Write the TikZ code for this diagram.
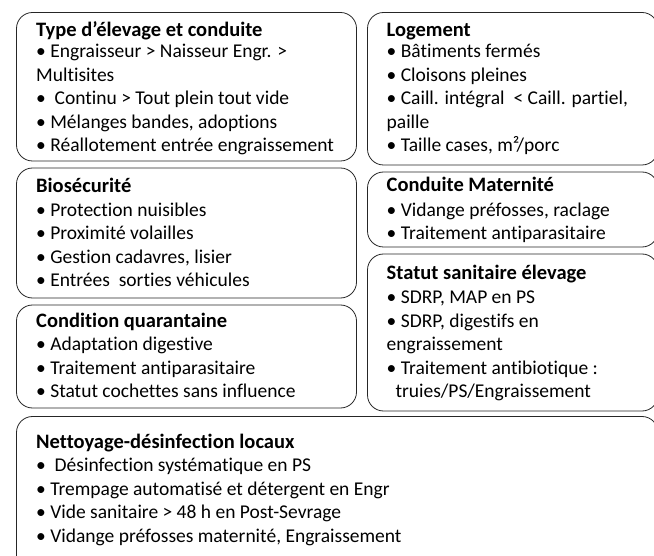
\documentclass[tikz,border=0pt]{standalone}
\usepackage{fontspec}
\setmainfont[Ligatures=CommonOff]{Carlito}
\usepackage{tikz}

\newcommand{\boxfont}{\fontsize{19.5}{23.5}\selectfont}
\newcommand{\headfont}{\fontsize{20.5}{23.5}\selectfont\bfseries}

\tikzset{
  box/.style={draw=black!85, line width=0.8pt, rounded corners=16pt},
  head/.style={font=\headfont, anchor=base west, inner sep=0pt},
  item/.style={font=\boxfont, anchor=base west, inner sep=0pt}
}

\begin{document}
\begin{tikzpicture}[x=1pt, y=-1pt]

    \useasboundingbox (0,0) rectangle (654,556);
    \clip (0,0) rectangle (654,556);

    % LEFT column
    \draw[box] (16.5,12.5) rectangle (356.5,161);
    \node[head] (type) at (36,36.5) {Type d’élevage et conduite};
    \foreach \txt [count=\i from 0] in {{• Engraisseur > Naisseur Engr. >}, {Multisites},
        {•~~Continu > Tout plein tout vide}, {• Mélanges bandes, adoptions},
        {• Réallotement entrée engraissement}} {
        \node[item] (type-\i) at (36, 58+\i*23.5) {\txt};
    }

    \draw[box] (16.5,168) rectangle (356.5,298);
    \node[head] (bio) at (36,193) {Biosécurité};
    \foreach \txt [count=\i from 0] in {{• Protection nuisibles}, {• Proximité volailles},
        {• Gestion cadavres, lisier}, {• Entrées~~sorties véhicules}} {
        \node[item] (bio-\i) at (36, 216.5+\i*23.5) {\txt};
    }

    \draw[box] (16.5,305) rectangle (356.5,408);
    \node[head] (quar) at (36,327) {Condition quarantaine};
    \foreach \txt [count=\i from 0] in {{• Adaptation digestive}, {• Traitement antiparasitaire},
        {• Statut cochettes sans influence}} {
        \node[item] (quar-\i) at (36, 351+\i*23.5) {\txt};
    }

    % RIGHT column
    \draw[box] (367.5,12.5) rectangle (658,165);
    \node[head] (loge) at (386.5,36.5) {Logement};
    \foreach \txt [count=\i from 0] in {{• Bâtiments fermés}, {• Cloisons pleines},
        {• Caill. intégral~~< Caill. partiel,}, {paille}, {• Taille cases, m²/porc}} {
        \node[item] (loge-\i) at (386.5, 58+\i*23.5) {\txt};
    }

    \draw[box] (367.5,172) rectangle (658,247);
    \node[head] (mater) at (386.5,192) {Conduite Maternité};
    \foreach \txt [count=\i from 0] in {{• Vidange préfosses, raclage}, {• Traitement antiparasitaire}} {
        \node[item] (mater-\i) at (386.5, 216.5+\i*23.5) {\txt};
    }

    \draw[box] (367.5,254) rectangle (658,411);
    \node[head] (statut) at (386.5,280) {Statut sanitaire élevage};
    \foreach \txt [count=\i from 0] in {{• SDRP, MAP en PS}, {• SDRP, digestifs en}, {engraissement},
        {• Traitement antibiotique :}, {~~truies/PS/Engraissement}} {
        \node[item] (statut-\i) at (386.5, 303.5+\i*23.5) {\txt};
    }

    % BOTTOM
    \draw[box] (16.5,416.5) rectangle (658,580);
    \node[head] (nett) at (36,448) {Nettoyage-désinfection locaux};
    \foreach \txt [count=\i from 0] in {{•~~Désinfection systématique en PS},
        {• Trempage automatisé et détergent en Engr}, {• Vide sanitaire > 48 h en Post-Sevrage},
        {• Vidange préfosses maternité, Engraissement}} {
        \node[item] (nett-\i) at (36, 471.5+\i*23.5) {\txt};
    }

\end{tikzpicture}
\end{document}
